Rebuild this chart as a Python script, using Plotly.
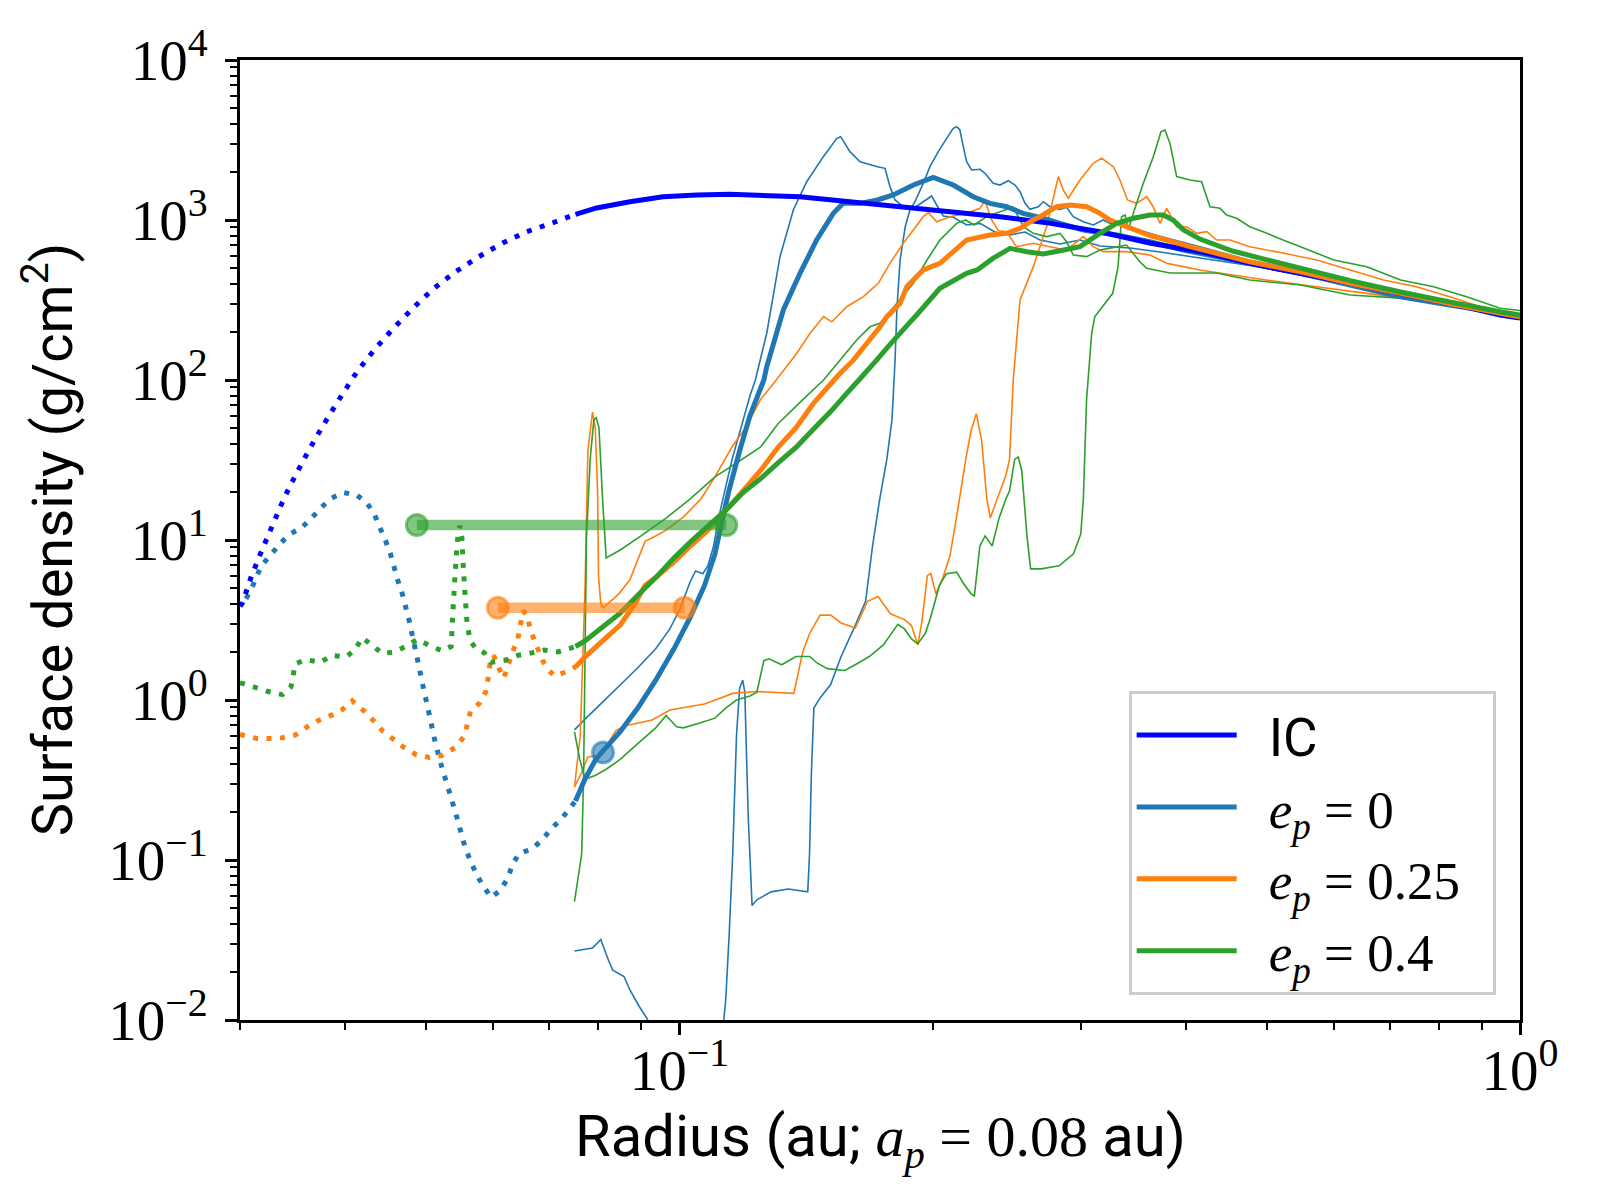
import math
import plotly.graph_objects as go

# radius (au), surface density (g/cm^2)

# initial condition
ic_inner = [(0.0300, 3.85), (0.0302, 4.04), (0.0309, 5.79), (0.0318, 8.44), (0.0328, 12.4), (0.0337, 17.3),
            (0.0343, 21.1), (0.0355, 29.9), (0.0368, 42.2), (0.0382, 58.7), (0.0398, 83), (0.0414, 114),
            (0.0435, 158), (0.0457, 211), (0.0482, 282), (0.0509, 370), (0.0541, 473), (0.0576, 587),
            (0.0616, 718), (0.0658, 845), (0.0707, 961), (0.0752, 1085)]
ic_outer = [(0.0752, 1085), (0.0797, 1189), (0.0873, 1301), (0.0956, 1398), (0.1049, 1433), (0.1148, 1447),
            (0.1391, 1398), (0.183, 1211), (0.2406, 1048), (0.2764, 953), (0.3164, 845), (0.3636, 715),
            (0.4161, 634), (0.477, 536), (0.628, 402), (0.825, 301), (0.947, 255), (1.0, 244)]

# e_p = 0
e0_inner = [(0.0305, 4.3), (0.0309, 4.84), (0.0318, 6.9), (0.0326, 8.02), (0.0335, 9.53), (0.0344, 10.9),
            (0.0355, 11.9), (0.0365, 13.7), (0.0374, 15.8), (0.0385, 18.2), (0.0398, 19.8), (0.0413, 19.1),
            (0.0425, 17.0), (0.0434, 14.3), (0.0440, 12.0), (0.0447, 9.9), (0.0453, 8.2), (0.0462, 5.64),
            (0.0468, 4.6), (0.0477, 3.12), (0.0488, 1.77), (0.0496, 1.18), (0.0504, 0.806), (0.0512, 0.546),
            (0.0522, 0.373), (0.0534, 0.253), (0.0545, 0.175), (0.0556, 0.119), (0.0564, 0.099), (0.0573, 0.082),
            (0.0583, 0.0698), (0.0597, 0.0584), (0.0612, 0.0646), (0.0625, 0.0772), (0.0633, 0.0944),
            (0.0645, 0.11), (0.0667, 0.117), (0.0687, 0.134), (0.0703, 0.156), (0.0723, 0.18), (0.0740, 0.209),
            (0.0752, 0.234)]
e0_mean = [(0.0752, 0.234), (0.0772, 0.321), (0.0795, 0.425), (0.0810, 0.477), (0.0850, 0.633), (0.0892, 0.891),
           (0.0937, 1.33), (0.0985, 2.09), (0.1030, 3.3), (0.1071, 5.2), (0.1102, 8.18), (0.1123, 12.95),
           (0.1145, 20.3), (0.1179, 36), (0.1213, 59.9), (0.1260, 100), (0.1270, 121), (0.1329, 274),
           (0.1391, 464), (0.1456, 750), (0.1524, 1101), (0.1566, 1271), (0.1640, 1271), (0.1720, 1334),
           (0.1796, 1433), (0.1898, 1654), (0.2004, 1848), (0.2117, 1654), (0.2236, 1398), (0.2341, 1271),
           (0.2450, 1211), (0.2563, 1101), (0.2709, 1025), (0.2836, 953), (0.3023, 866), (0.3313, 806),
           (0.3629, 731), (0.3975, 649), (0.477, 536), (0.548, 464), (0.628, 392), (0.721, 331), (0.825, 294),
           (1.0, 251)]
e0_snap_a = [(0.075, 0.651), (0.0772, 0.76), (0.081, 0.97), (0.085, 1.24), (0.0892, 1.59), (0.0937, 2.09),
             (0.0974, 2.78), (0.1001, 3.69), (0.1030, 5.5), (0.1045, 6.41), (0.1066, 6.15), (0.1081, 6.9),
             (0.1098, 9.17), (0.1113, 13.7), (0.1135, 21.5), (0.1157, 33), (0.1184, 50.6), (0.1213, 79.7),
             (0.1231, 100), (0.1270, 196), (0.1317, 590), (0.1366, 1155), (0.1417, 1734), (0.1483, 2488),
             (0.1539, 3239), (0.1555, 3318), (0.1595, 2673), (0.1640, 2313), (0.1720, 2154), (0.1756, 2104),
             (0.1780, 1616), (0.1805, 1334), (0.1846, 1211), (0.1898, 1183), (0.1950, 1301), (0.1995, 1413),
             (0.2023, 1241), (0.2060, 1059), (0.2117, 1040), (0.2196, 931), (0.2278, 953), (0.2373, 841),
             (0.2473, 806), (0.2577, 841), (0.2685, 750), (0.2836, 708), (0.2996, 750), (0.3164, 688),
             (0.3435, 668), (0.373, 631), (0.4161, 579), (0.477, 520), (0.548, 455), (0.628, 390), (0.721, 330),
             (0.825, 292), (0.947, 254), (1.0, 244)]
e0_snap_b = [(0.075, 0.027), (0.0772, 0.0277), (0.0788, 0.0282), (0.0806, 0.0319), (0.0823, 0.0237),
             (0.0833, 0.0205), (0.0859, 0.0187), (0.0873, 0.0154), (0.0896, 0.0121), (0.0916, 0.0101),
             (0.0945, 0.006), (0.1115, 0.005), (0.1135, 0.0133), (0.1146, 0.0348), (0.1157, 0.109),
             (0.1169, 0.598), (0.1179, 1.18), (0.1189, 1.33), (0.1196, 1.12), (0.1207, 0.192), (0.1220, 0.052),
             (0.1236, 0.0564), (0.1285, 0.0632), (0.1347, 0.0658), (0.1421, 0.0632), (0.1428, 0.109),
             (0.1435, 0.339), (0.1445, 0.89), (0.1470, 1.03), (0.1513, 1.25), (0.1557, 1.87), (0.1619, 2.94),
             (0.1665, 4.14), (0.1697, 9.17), (0.1731, 18.1), (0.1765, 32.1), (0.1790, 56.6), (0.1800, 100),
             (0.1805, 133), (0.1814, 274), (0.1830, 562), (0.1856, 908), (0.1880, 1155), (0.1906, 1301),
             (0.1950, 1694), (0.1986, 2154), (0.2032, 2673), (0.2079, 3239), (0.2117, 3739), (0.2137, 3831),
             (0.2156, 3652), (0.2176, 2871), (0.2196, 2313), (0.2226, 2054), (0.2278, 2074), (0.2309, 1958),
             (0.2362, 1694), (0.2406, 1654), (0.2461, 1761), (0.2507, 1654), (0.2542, 1503), (0.2577, 1271),
             (0.2612, 1166), (0.2672, 1211), (0.2709, 1301), (0.2759, 1211), (0.2836, 1166), (0.2888, 1200),
             (0.2941, 1049), (0.3023, 976), (0.3107, 931), (0.3193, 1000), (0.3252, 953), (0.3435, 900),
             (0.370, 800), (0.4161, 680), (0.477, 560), (0.548, 475), (0.628, 400), (0.721, 335), (0.825, 298),
             (0.947, 258), (1.0, 248)]

# e_p = 0.25
e25_inner = [(0.0300, 0.61), (0.0302, 0.604), (0.0314, 0.575), (0.0326, 0.575), (0.0337, 0.581), (0.0349, 0.604),
             (0.0359, 0.669), (0.0371, 0.74), (0.0386, 0.807), (0.0397, 0.871), (0.0408, 0.987), (0.0422, 0.849),
             (0.0434, 0.729), (0.0443, 0.643), (0.0457, 0.566), (0.0470, 0.505), (0.0486, 0.456), (0.0504, 0.438),
             (0.0522, 0.451), (0.0541, 0.505), (0.0555, 0.596), (0.0564, 0.849), (0.0579, 0.963), (0.0588, 1.12),
             (0.0592, 1.37), (0.0595, 1.68), (0.0601, 1.9), (0.0609, 1.6), (0.0618, 1.37), (0.0626, 1.68),
             (0.0633, 2.0), (0.0642, 2.39), (0.0649, 3.24), (0.0652, 3.61), (0.0660, 3.32), (0.0664, 2.78),
             (0.0674, 2.27), (0.0687, 1.77), (0.0700, 1.52), (0.0711, 1.41), (0.0728, 1.48), (0.0742, 1.55),
             (0.0752, 1.61)]
e25_mean = [(0.0752, 1.61), (0.0772, 1.86), (0.081, 2.34), (0.085, 2.94), (0.0883, 3.91), (0.0910, 5.2),
            (0.0937, 5.82), (0.0985, 7.3), (0.1030, 9.17), (0.1081, 11.5), (0.1135, 15.3), (0.1190, 20.3),
            (0.1248, 27.1), (0.1310, 38.0), (0.1377, 50.6), (0.1442, 71.1), (0.1513, 94.4), (0.1552, 110),
            (0.1610, 133), (0.1670, 169), (0.1732, 215), (0.1765, 249), (0.1830, 301), (0.1864, 383),
            (0.1950, 487), (0.2041, 536), (0.2196, 750), (0.2341, 806), (0.2450, 825), (0.2542, 887),
            (0.2636, 1000), (0.2685, 1049), (0.2810, 1211), (0.2915, 1241), (0.3051, 1211), (0.3164, 1101),
            (0.3252, 1000), (0.3403, 908), (0.3629, 800), (0.3798, 750), (0.4049, 681), (0.4356, 619),
            (0.477, 548), (0.548, 475), (0.628, 402), (0.721, 348), (0.825, 301), (0.947, 261), (1.0, 248)]
e25_snap_a = [(0.075, 0.286), (0.0762, 0.6), (0.0772, 5), (0.0778, 36), (0.0788, 63), (0.0794, 50),
              (0.0799, 20), (0.0801, 6), (0.0806, 4.0), (0.0812, 3.77), (0.0848, 4.64), (0.0873, 5.64),
              (0.0910, 9.8), (0.0937, 10.6), (0.0961, 11.4), (0.1012, 14.0), (0.1061, 18.1), (0.1102, 24.8),
              (0.1157, 38.8), (0.1200, 50.6), (0.1248, 75.2), (0.1298, 97.2), (0.1379, 147), (0.1430, 196),
              (0.1484, 249), (0.1518, 231), (0.1581, 287), (0.1655, 332), (0.1724, 402), (0.1780, 536),
              (0.1846, 715), (0.1898, 866), (0.1950, 1049), (0.1978, 1111), (0.2023, 976), (0.2098, 1049),
              (0.2196, 1101), (0.2278, 1183), (0.2309, 1318), (0.2352, 1000), (0.2396, 857), (0.2450, 845),
              (0.2517, 681), (0.2636, 715), (0.2759, 681), (0.2888, 649), (0.3023, 787), (0.3107, 681),
              (0.3193, 634), (0.3401, 634), (0.3629, 604), (0.3798, 536), (0.3975, 511), (0.4161, 487),
              (0.455, 453), (0.4987, 422), (0.573, 383), (0.657, 348), (0.753, 316), (0.864, 281), (0.947, 255),
              (1.0, 244)]
e25_snap_b = [(0.075, 0.286), (0.0763, 0.342), (0.0778, 0.44), (0.0806, 0.451), (0.0840, 0.643), (0.0860, 0.688),
              (0.0928, 0.75), (0.0974, 0.866), (0.1071, 0.943), (0.1157, 1.1), (0.1236, 1.13), (0.1368, 1.1),
              (0.1401, 1.98), (0.1429, 2.62), (0.1470, 3.39), (0.1513, 3.39), (0.1557, 3.03), (0.1619, 2.82),
              (0.1674, 4.14), (0.1723, 4.44), (0.1782, 3.46), (0.1852, 3.18), (0.1888, 2.92), (0.1921, 2.21),
              (0.1943, 3.1), (0.1972, 5.99), (0.1990, 6.17), (0.2019, 4.6), (0.2058, 5.82), (0.2098, 7.96),
              (0.2139, 14.5), (0.2191, 32), (0.2223, 48.5), (0.2255, 61.6), (0.2288, 42), (0.2321, 18.1),
              (0.2343, 13.7), (0.2388, 18.1), (0.2446, 25.5), (0.2470, 32), (0.2495, 100), (0.2542, 316),
              (0.2636, 511), (0.2734, 908), (0.2823, 1866), (0.2862, 1539), (0.2901, 1368), (0.2996, 1778),
              (0.3106, 2259), (0.3179, 2435), (0.3282, 2154), (0.3342, 1778), (0.3412, 1334), (0.3497, 1271),
              (0.3597, 1398), (0.3661, 1211), (0.3730, 953), (0.3798, 1183), (0.3904, 908), (0.4013, 908),
              (0.4125, 825), (0.4241, 845), (0.4356, 750), (0.4518, 750), (0.477, 681), (0.524, 619),
              (0.573, 562), (0.628, 487), (0.688, 422), (0.753, 383), (0.825, 331), (0.947, 261), (1.0, 250)]

# e_p = 0.4
e40_inner = [(0.0300, 1.28), (0.0302, 1.27), (0.0314, 1.19), (0.0324, 1.13), (0.0337, 1.08), (0.0345, 1.21),
             (0.0349, 1.68), (0.0359, 1.79), (0.0374, 1.72), (0.0386, 1.9), (0.0401, 1.86), (0.0411, 2.05),
             (0.0419, 2.45), (0.0430, 2.22), (0.0443, 1.95), (0.0458, 2.0), (0.0472, 2.16), (0.0488, 2.39),
             (0.0505, 2.18), (0.0522, 2.03), (0.0535, 2.16), (0.0537, 3.24), (0.0540, 5.36), (0.0543, 8.44),
             (0.0545, 10.6), (0.0548, 12.3), (0.0551, 10.3), (0.0553, 6.9), (0.0556, 4.38), (0.0559, 2.93),
             (0.0564, 2.33), (0.0572, 2.11), (0.0586, 1.97), (0.0597, 1.72), (0.0620, 1.77), (0.0642, 1.9),
             (0.0667, 1.97), (0.0690, 2.05), (0.0717, 2.0), (0.0742, 2.11), (0.0752, 2.16)]
e40_mean = [(0.0752, 2.16), (0.0772, 2.34), (0.081, 2.86), (0.085, 3.49), (0.0892, 4.51), (0.0937, 5.82),
            (0.0985, 7.73), (0.1030, 9.7), (0.1081, 12.2), (0.1135, 15.3), (0.1190, 19.8), (0.1248, 24.1),
            (0.1310, 30.3), (0.1377, 38.0), (0.1442, 49.1), (0.1513, 63.5), (0.1587, 84.3), (0.1635, 100),
            (0.1720, 135), (0.1768, 160), (0.1868, 221), (0.1915, 255), (0.2041, 374), (0.2196, 464),
            (0.2260, 487), (0.2362, 577), (0.2473, 665), (0.2589, 634), (0.2709, 613), (0.2836, 643),
            (0.2996, 681), (0.3164, 825), (0.3313, 953), (0.3467, 1025), (0.3629, 1075), (0.3763, 1075),
            (0.3866, 1000), (0.3975, 870), (0.4161, 760), (0.455, 640), (0.4987, 565), (0.548, 500),
            (0.628, 418), (0.721, 355), (0.825, 308), (0.947, 267), (1.0, 255)]
e40_snap_a = [(0.075, 0.633), (0.0761, 0.425), (0.0772, 0.32), (0.0795, 0.339), (0.0818, 0.369), (0.085, 0.425),
              (0.0892, 0.534), (0.0937, 0.67), (0.0964, 0.80), (0.0992, 0.68), (0.1011, 0.67), (0.1050, 0.71),
              (0.1102, 0.77), (0.1135, 0.89), (0.1169, 1.0), (0.1213, 1.06), (0.1236, 1.12), (0.1260, 1.76),
              (0.1278, 1.81), (0.1323, 1.66), (0.1376, 1.87), (0.1429, 1.87), (0.1456, 1.71), (0.1499, 1.57),
              (0.1573, 1.53), (0.1634, 1.71), (0.1682, 1.87), (0.1748, 2.21), (0.1819, 2.97), (0.1852, 2.78),
              (0.1888, 2.41), (0.1921, 2.24), (0.1962, 2.62), (0.1990, 3.29), (0.2038, 5.2), (0.2077, 6.15),
              (0.2137, 6.3), (0.2179, 5.31), (0.2223, 4.61), (0.2243, 4.48), (0.2277, 9.17), (0.2310, 10.6),
              (0.2355, 9.17), (0.2400, 13.7), (0.2446, 18.1), (0.2470, 20.3), (0.2505, 32), (0.2530, 33),
              (0.2554, 27.1), (0.2592, 10.3), (0.2617, 6.6), (0.2694, 6.6), (0.2829, 6.9), (0.2943, 8.2),
              (0.3002, 10.9), (0.3023, 17.8), (0.3050, 75), (0.3093, 196), (0.3120, 249), (0.3164, 274),
              (0.3277, 348), (0.3325, 511), (0.3357, 1049), (0.3389, 1075), (0.3419, 866), (0.3467, 1101),
              (0.3563, 1694), (0.3662, 2488), (0.3740, 3565), (0.3781, 3652), (0.3833, 3013), (0.3904, 1866),
              (0.4049, 1778), (0.4180, 1734), (0.4277, 1211), (0.4396, 1183), (0.4477, 1075), (0.4601, 1025),
              (0.477, 908), (0.4947, 845), (0.5225, 750), (0.548, 681), (0.6005, 562), (0.657, 511), (0.721, 422),
              (0.7895, 383), (0.864, 331), (0.947, 281), (1.0, 272)]
e40_snap_b = [(0.075, 0.055), (0.0765, 0.109), (0.0769, 0.339), (0.0772, 1.86), (0.0775, 10.3), (0.0783, 32.1),
              (0.0791, 56.6), (0.0796, 58), (0.0802, 50.6), (0.0810, 18.1), (0.0818, 7.73), (0.0850, 8.66),
              (0.0900, 10.6), (0.0964, 13.7), (0.1030, 18.1), (0.1102, 24.8), (0.1169, 30.3), (0.1248, 38.0),
              (0.1310, 53.3), (0.1401, 75.2), (0.1484, 100), (0.1552, 133), (0.1625, 178), (0.1685, 215),
              (0.1732, 226), (0.1813, 301), (0.1898, 402), (0.1970, 562), (0.2041, 750), (0.2137, 953),
              (0.2189, 1000), (0.2241, 931), (0.2320, 1049), (0.2406, 1127), (0.2495, 1200), (0.2517, 1101),
              (0.2566, 908), (0.2636, 825), (0.2734, 787), (0.2836, 825), (0.2888, 731), (0.2941, 604),
              (0.3051, 590), (0.3164, 649), (0.3252, 667), (0.3403, 697), (0.3531, 547), (0.3596, 499),
              (0.3833, 466), (0.4125, 466), (0.4356, 466), (0.477, 422), (0.548, 392), (0.628, 340), (0.721, 325),
              (0.825, 294), (0.947, 255), (1.0, 246)]

# planet orbit extent (peri -> apo) and the level it is drawn at
orbit_e0_r = [0.0811]
orbit_e0_s = [0.47]
orbit_e25_r = [0.0608, 0.1014]
orbit_e25_s = [3.77, 3.77]
orbit_e40_r = [0.0487, 0.1137]
orbit_e40_s = [12.4, 12.4]

legend_names = ["IC", "e0", "e25", "e40"]

SANS = "Roboto"
SERIF = "Liberation Serif"
IC_COL = "#0000ff"
COLS = {"e0": "#1f77b4", "e25": "#ff7f0e", "e40": "#2ca02c"}
RGB = {"e0": (31, 119, 180), "e25": (255, 127, 14), "e40": (44, 160, 44)}
THICK = 5.0
THIN = 1.6
DOT = "5px,8.5px"
SP = "\u2002"


def tex(s):
    return '<span style="font-family:%s">%s</span>' % (SERIF, s)


fig = go.Figure()


def add_curve(pts, color, width, dash="solid"):
    fig.add_trace(go.Scatter(
        x=[p[0] for p in pts], y=[p[1] for p in pts],
        mode="lines",
        line=dict(color=color, width=width, dash=dash, simplify=False),
        showlegend=False, hoverinfo="skip",
    ))


# snapshots (thin)
for pts, key in [(e0_snap_a, "e0"), (e0_snap_b, "e0"),
                 (e25_snap_a, "e25"), (e25_snap_b, "e25"),
                 (e40_snap_a, "e40"), (e40_snap_b, "e40")]:
    add_curve(pts, COLS[key], THIN)

# time averaged (thick), dotted inside the inner boundary
add_curve(e0_inner, COLS["e0"], THICK, DOT)
add_curve(e0_mean, COLS["e0"], THICK)
add_curve(ic_inner, IC_COL, THICK, DOT)
add_curve(ic_outer, IC_COL, THICK)
add_curve(e25_inner, COLS["e25"], THICK, DOT)
add_curve(e25_mean, COLS["e25"], THICK)
add_curve(e40_inner, COLS["e40"], THICK, DOT)
add_curve(e40_mean, COLS["e40"], THICK)

# orbit extent markers
for r, s, key in [(orbit_e25_r, orbit_e25_s, "e25"), (orbit_e40_r, orbit_e40_s, "e40"),
                  (orbit_e0_r, orbit_e0_s, "e0")]:
    rgba = "rgba(%d,%d,%d,0.6)" % RGB[key]
    fig.add_trace(go.Scatter(
        x=r, y=s, mode="lines+markers",
        line=dict(color=rgba, width=10.4),
        marker=dict(size=21, color=rgba, line=dict(color=rgba, width=3)),
        showlegend=False, hoverinfo="skip",
    ))

# legend entries
legend_text = {
    "IC": SP + "IC" + SP,
    "e0": SP + tex("<i>e</i><sub><i>p</i></sub> = 0") + SP,
    "e25": SP + tex("<i>e</i><sub><i>p</i></sub> = 0.25") + SP,
    "e40": SP + tex("<i>e</i><sub><i>p</i></sub> = 0.4") + SP,
}
for name in legend_names:
    fig.add_trace(go.Scatter(
        x=[None], y=[None], mode="lines",
        line=dict(color=IC_COL if name == "IC" else COLS[name], width=THICK),
        name=legend_text[name], showlegend=True,
    ))

# log axis ticks
x_major = [0.1, 1.0]
x_minor = [m * 10 ** d for d in (-2, -1) for m in range(2, 10) if 0.03 <= m * 10 ** d < 1.0]
y_major = [10.0 ** k for k in range(-2, 5)]
y_minor = [m * 10.0 ** k for k in range(-2, 4) for m in range(2, 10)]


def exp_label(k):
    return "10<sup>%s</sup>" % (str(k).replace("-", "\u2212"))


axis_common = dict(
    type="log", showgrid=False, zeroline=False,
    showline=True, linecolor="black", linewidth=2.8, mirror=True,
    ticks="outside", ticklen=12, tickwidth=2.8, tickcolor="black",
    tickfont=dict(family=SERIF, size=57, color="black"),
)

fig.update_layout(
    width=1600, height=1200,
    # the page body adds 8 px on the left and top
    margin=dict(l=232, r=88, t=52, b=188),
    paper_bgcolor="white", plot_bgcolor="white",
    xaxis=dict(
        range=[math.log10(0.03), 0],
        tickvals=x_major, ticktext=[exp_label(-1), exp_label(0)],
        ticklabelstandoff=-13,
        minor=dict(tickvals=x_minor, ticks="outside", ticklen=7, tickwidth=2.1, tickcolor="black"),
        **axis_common,
    ),
    yaxis=dict(
        range=[-2, 4],
        tickvals=y_major, ticktext=[exp_label(k) for k in range(-2, 5)],
        ticklabelstandoff=6,
        minor=dict(tickvals=y_minor, ticks="outside", ticklen=7, tickwidth=2.1, tickcolor="black"),
        **axis_common,
    ),
    legend=dict(
        x=0.981, y=0.026, xanchor="right", yanchor="bottom",
        bgcolor="rgba(255,255,255,0.8)", bordercolor="#cccccc", borderwidth=3,
        font=dict(family=SANS, size=53, color="black"),
        itemwidth=100, traceorder="normal",
    ),
    annotations=[
        dict(text="Surface density (g/cm<sup>2</sup>)", xref="paper", yref="paper",
             x=-0.149, y=0.5, xanchor="center", yanchor="middle", textangle=-90, showarrow=False,
             font=dict(family=SANS, size=56, color="black")),
        dict(text="Radius (au; " + tex("<i>a</i><sub><i>p</i></sub> = 0.08") + " au)",
             xref="paper", yref="paper", x=0.5, y=-0.124, xanchor="center", yanchor="middle",
             showarrow=False, font=dict(family=SANS, size=58, color="black")),
    ],
)

fig.write_html("out.html")
